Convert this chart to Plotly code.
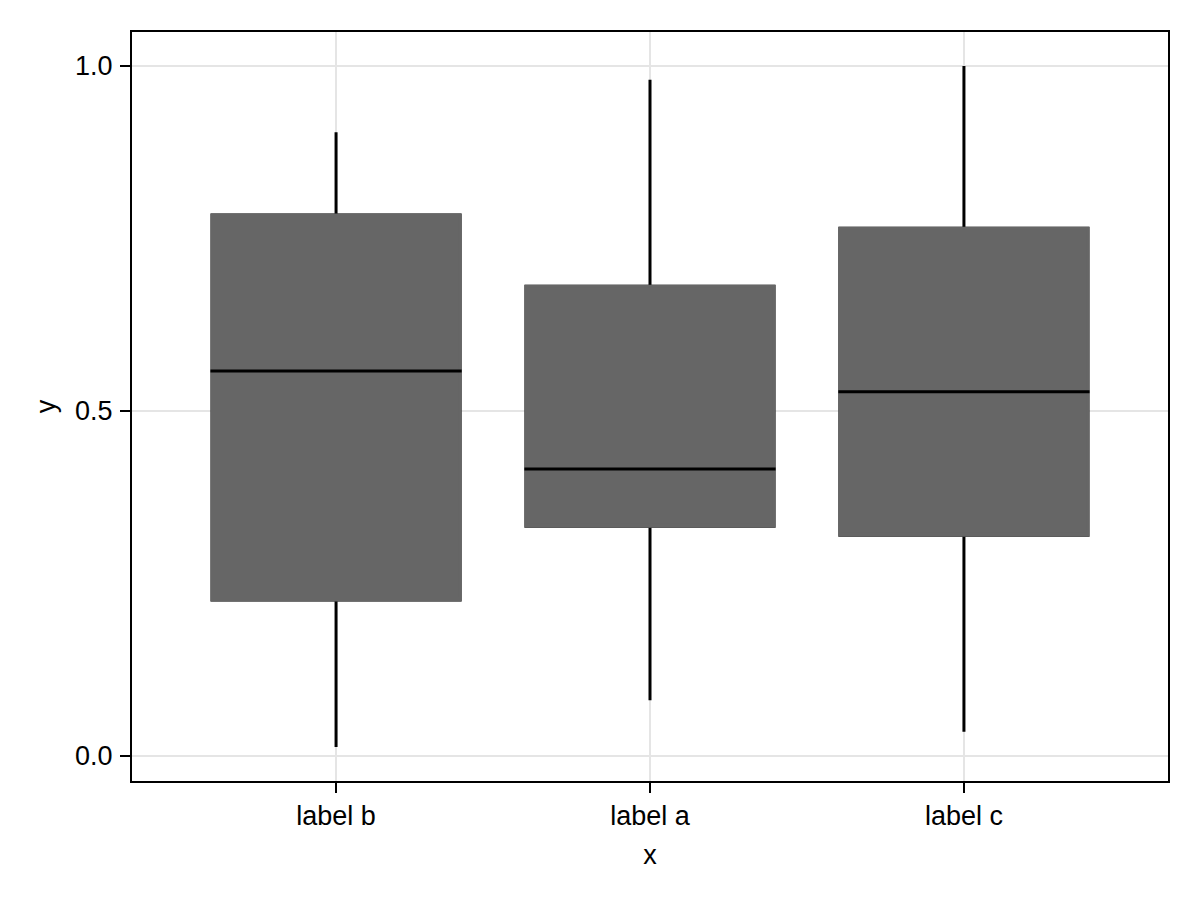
import plotly.graph_objects as go

categories = ["label b", "label a", "label c"]
lower_fence = [0.013, 0.081, 0.035]
q1 = [0.226, 0.333, 0.320]
median = [0.558, 0.416, 0.528]
q3 = [0.784, 0.681, 0.765]
upper_fence = [0.904, 0.980, 1.000]

BOX_GRAY = "#666666"
LW = 3
BOX_W = 0.79

fig = go.Figure()
# whiskers (and outline, later covered)
fig.add_trace(go.Box(
    x=categories, q1=q1, median=median, q3=q3,
    lowerfence=lower_fence, upperfence=upper_fence,
    width=BOX_W, whiskerwidth=0, fillcolor=BOX_GRAY,
    line=dict(color="black", width=LW), boxpoints=False, hoverinfo="skip",
))
# gray body covering outline
fig.add_trace(go.Box(
    x=categories, q1=q1, median=q1, q3=q3,
    lowerfence=q1, upperfence=q3,
    width=BOX_W, whiskerwidth=0, fillcolor=BOX_GRAY,
    line=dict(color=BOX_GRAY, width=LW), boxpoints=False, hoverinfo="skip",
))
# median line
fig.add_trace(go.Box(
    x=categories, q1=median, median=median, q3=median,
    lowerfence=median, upperfence=median,
    width=BOX_W + 0.01, whiskerwidth=0, fillcolor="black",
    line=dict(color="black", width=LW), boxpoints=False, hoverinfo="skip",
))

font = "Liberation Sans, Arial, sans-serif"
fig.update_layout(
    width=1200, height=900,
    margin=dict(l=132, r=32, t=32, b=119),
    paper_bgcolor="white", plot_bgcolor="white",
    showlegend=False, boxmode="overlay",
    font=dict(family=font, size=27, color="black"),
)
fig.update_xaxes(
    type="category", categoryorder="array", categoryarray=categories,
    range=[-0.65, 2.65],
    showgrid=True, gridcolor="#e5e5e5", gridwidth=1.5,
    showline=True, linecolor="black", linewidth=2, mirror=True,
    ticks="outside", ticklen=10, tickwidth=2, tickcolor="black",
    tickfont=dict(size=27), zeroline=False,
    title=dict(text="x", font=dict(size=27), standoff=15),
)
fig.update_yaxes(
    range=[-0.0362, 1.0493],
    tickvals=[0.0, 0.5, 1.0], ticktext=["0.0", "0.5", "1.0"],
    showgrid=True, gridcolor="#e5e5e5", gridwidth=1.5,
    showline=True, linecolor="black", linewidth=2, mirror=True,
    ticks="outside", ticklen=10, tickwidth=2, tickcolor="black",
    tickfont=dict(size=27), zeroline=False, ticklabelstandoff=2,
    title=dict(text="y", font=dict(size=27), standoff=12),
)

fig.write_html("out.html", config={"displayModeBar": False},
               post_script="document.body.style.margin='0px';")
